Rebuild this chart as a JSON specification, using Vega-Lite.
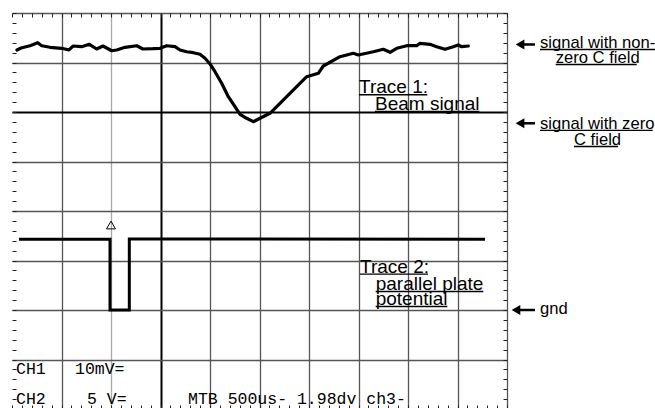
{
  "$schema": "https://vega.github.io/schema/vega-lite/v6.json",
  "width": 495,
  "height": 396,
  "autosize": {"type": "none"},
  "padding": {"left": 12, "top": 13, "right": 148, "bottom": 0},
  "background": "white",
  "config": {"view": {"stroke": null}},
  "datasets": {
    "trace1": [
      {"t": 0.101, "v": 7.253}, {"t": 0.182, "v": 7.293}, {"t": 0.364, "v": 7.339}, {"t": 0.519, "v": 7.4},
      {"t": 0.6, "v": 7.339}, {"t": 0.768, "v": 7.307}, {"t": 1.004, "v": 7.287}, {"t": 1.152, "v": 7.253},
      {"t": 1.232, "v": 7.333}, {"t": 1.408, "v": 7.319}, {"t": 1.562, "v": 7.368}, {"t": 1.711, "v": 7.273},
      {"t": 1.838, "v": 7.333}, {"t": 2.014, "v": 7.238}, {"t": 2.115, "v": 7.253}, {"t": 2.283, "v": 7.307},
      {"t": 2.519, "v": 7.339}, {"t": 2.646, "v": 7.273}, {"t": 2.848, "v": 7.279}, {"t": 2.99, "v": 7.287},
      {"t": 3.125, "v": 7.339}, {"t": 3.293, "v": 7.319}, {"t": 3.394, "v": 7.253}, {"t": 3.529, "v": 7.218},
      {"t": 3.663, "v": 7.198}, {"t": 3.798, "v": 7.166}, {"t": 3.899, "v": 7.085}, {"t": 4.0, "v": 6.97},
      {"t": 4.101, "v": 6.814}, {"t": 4.236, "v": 6.58}, {"t": 4.37, "v": 6.309}, {"t": 4.505, "v": 6.107},
      {"t": 4.606, "v": 5.954}, {"t": 4.741, "v": 5.873}, {"t": 4.875, "v": 5.804}, {"t": 5.01, "v": 5.873},
      {"t": 5.212, "v": 5.974}, {"t": 5.549, "v": 6.309}, {"t": 5.953, "v": 6.713}, {"t": 6.188, "v": 6.782},
      {"t": 6.289, "v": 6.929}, {"t": 6.626, "v": 7.117}, {"t": 6.895, "v": 7.186}, {"t": 6.996, "v": 7.152},
      {"t": 7.299, "v": 7.218}, {"t": 7.501, "v": 7.267}, {"t": 7.636, "v": 7.206}, {"t": 7.772, "v": 7.287},
      {"t": 7.974, "v": 7.339}, {"t": 8.176, "v": 7.339}, {"t": 8.242, "v": 7.388}, {"t": 8.444, "v": 7.368},
      {"t": 8.58, "v": 7.319}, {"t": 8.747, "v": 7.267}, {"t": 8.915, "v": 7.319}, {"t": 9.016, "v": 7.354},
      {"t": 9.085, "v": 7.319}, {"t": 9.218, "v": 7.333}
    ],
    "trace2": [
      {"i": 0, "t": 0.141, "v": 3.428}, {"i": 1, "t": 1.98, "v": 3.428}, {"i": 2, "t": 1.98, "v": 2.0},
      {"i": 3, "t": 2.37, "v": 2.0}, {"i": 4, "t": 2.37, "v": 3.435}, {"i": 5, "t": 9.556, "v": 3.43}
    ],
    "trigger": [{"t": 2.0, "v": 3.717}],
    "traceLabels": [
      {"t": 7.01, "v": 6.378, "text": "Trace 1:"},
      {"t": 7.333, "v": 6.04, "text": "Beam signal"},
      {"t": 7.03, "v": 2.754, "text": "Trace 2:"},
      {"t": 7.347, "v": 2.404, "text": "parallel plate"},
      {"t": 7.347, "v": 2.101, "text": "potential"}
    ],
    "sideLabels": [
      {"t": 10.667, "v": 7.293, "text": "signal with non-"},
      {"t": 10.984, "v": 6.99, "text": "zero C field"},
      {"t": 10.667, "v": 5.657, "text": "signal with zero"},
      {"t": 11.354, "v": 5.333, "text": "C field"},
      {"t": 10.667, "v": 1.929, "text": "gnd"}
    ],
    "underlines": [
      {"t": 7.01, "t2": 8.39, "v": 6.348},
      {"t": 7.333, "t2": 9.44, "v": 6.01},
      {"t": 7.03, "t2": 8.404, "v": 2.724},
      {"t": 7.347, "t2": 9.521, "v": 2.374},
      {"t": 7.347, "t2": 8.794, "v": 2.071},
      {"t": 10.667, "t2": 13.004, "v": 7.263},
      {"t": 10.984, "t2": 12.62, "v": 6.96},
      {"t": 10.667, "t2": 12.943, "v": 5.627},
      {"t": 11.354, "t2": 12.242, "v": 5.303}
    ],
    "arrows": [
      {"t": 10.263, "t2": 10.566, "v": 7.364},
      {"t": 10.263, "t2": 10.566, "v": 5.772},
      {"t": 10.182, "t2": 10.566, "v": 2.0}
    ],
    "scopeText": [
      {"t": 0.081, "v": 0.707, "text": "CH1"},
      {"t": 1.273, "v": 0.707, "text": "10mV="},
      {"t": 0.081, "v": 0.095, "text": "CH2"},
      {"t": 1.515, "v": 0.095, "text": "5 V="},
      {"t": 3.556, "v": 0.095, "text": "MTB 500us- 1.98dv ch3-"}
    ]
  },
  "layer": [
    {
      "data": {"name": "trace1"},
      "mark": {"type": "line", "color": "#000", "strokeWidth": 3.2, "strokeJoin": "round", "strokeCap": "round"},
      "encoding": {
        "x": {
          "field": "t", "type": "quantitative",
          "scale": {"domain": [0, 10], "nice": false, "zero": false},
          "axis": {
            "orient": "bottom", "title": null, "labels": false, "domain": false,
            "values": [0,0.2,0.4,0.6,0.8,1,1.2,1.4,1.6,1.8,2,2.2,2.4,2.6,2.8,3,3.2,3.4,3.6,3.8,4,4.2,4.4,4.6,4.8,5,5.2,5.4,5.6,5.8,6,6.2,6.4,6.6,6.8,7,7.2,7.4,7.6,7.8,8,8.2,8.4,8.6,8.8,9,9.2,9.4,9.6,9.8,10],
            "ticks": true, "tickSize": -4, "tickColor": "#222", "tickWidth": 1,
            "grid": true,
            "gridColor": {"condition": [{"test": "datum.value == 3", "value": "#000"}, {"test": "datum.value == 2", "value": "#aaa"}], "value": "#555"},
            "gridWidth": {"condition": {"test": "datum.value == 3", "value": 2}, "value": 1.3},
            "gridOpacity": {"condition": {"test": "datum.value < 0.5 || abs(datum.value - round(datum.value)) > 0.01", "value": 0}, "value": 1}
          }
        },
        "y": {
          "field": "v", "type": "quantitative",
          "scale": {"domain": [0, 8], "nice": false, "zero": false},
          "axis": {
            "orient": "left", "title": null, "labels": false, "domain": false,
            "values": [0,0.2,0.4,0.6,0.8,1,1.2,1.4,1.6,1.8,2,2.2,2.4,2.6,2.8,3,3.2,3.4,3.6,3.8,4,4.2,4.4,4.6,4.8,5,5.2,5.4,5.6,5.8,6,6.2,6.4,6.6,6.8,7,7.2,7.4,7.6,7.8,8],
            "ticks": true, "tickSize": -4, "tickColor": "#222", "tickWidth": 1,
            "grid": true,
            "gridColor": {"condition": {"test": "datum.value == 6", "value": "#000"}, "value": "#555"},
            "gridWidth": {"condition": {"test": "datum.value == 6", "value": 2}, "value": 1.3},
            "gridOpacity": {"condition": {"test": "datum.value < 0.5 || abs(datum.value - round(datum.value)) > 0.01", "value": 0}, "value": 1}
          }
        }
      }
    },
    {
      "data": {"name": "trace2"},
      "mark": {"type": "line", "color": "#000", "strokeWidth": 3, "strokeJoin": "miter"},
      "encoding": {
        "x": {
          "field": "t", "type": "quantitative",
          "axis": {
            "orient": "top", "title": null, "labels": false, "domain": false, "grid": false,
            "values": [0,0.2,0.4,0.6,0.8,1,1.2,1.4,1.6,1.8,2,2.2,2.4,2.6,2.8,3,3.2,3.4,3.6,3.8,4,4.2,4.4,4.6,4.8,5,5.2,5.4,5.6,5.8,6,6.2,6.4,6.6,6.8,7,7.2,7.4,7.6,7.8,8,8.2,8.4,8.6,8.8,9,9.2,9.4,9.6,9.8,10],
            "ticks": true, "tickSize": -4, "tickColor": "#222", "tickWidth": 1
          }
        },
        "y": {
          "field": "v", "type": "quantitative",
          "axis": {
            "orient": "right", "title": null, "labels": false, "domain": false, "grid": false,
            "values": [0,0.2,0.4,0.6,0.8,1,1.2,1.4,1.6,1.8,2,2.2,2.4,2.6,2.8,3,3.2,3.4,3.6,3.8,4,4.2,4.4,4.6,4.8,5,5.2,5.4,5.6,5.8,6,6.2,6.4,6.6,6.8,7,7.2,7.4,7.6,7.8,8],
            "ticks": true, "tickSize": -4, "tickColor": "#222", "tickWidth": 1
          }
        },
        "order": {"field": "i", "type": "quantitative"}
      }
    },
    {
      "data": {"name": "trigger"},
      "mark": {"type": "point", "shape": "triangle-up", "filled": false, "stroke": "#000", "strokeWidth": 1, "size": 80, "opacity": 1},
      "encoding": {
        "x": {"field": "t", "type": "quantitative", "axis": null},
        "y": {"field": "v", "type": "quantitative", "axis": null}
      }
    },
    {
      "data": {"name": "underlines"},
      "mark": {"type": "rule", "color": "#000", "strokeWidth": 1.3},
      "encoding": {
        "x": {"field": "t", "type": "quantitative", "axis": null},
        "x2": {"field": "t2"},
        "y": {"field": "v", "type": "quantitative", "axis": null}
      }
    },
    {
      "data": {"name": "arrows"},
      "mark": {"type": "rule", "color": "#000", "strokeWidth": 2.5},
      "encoding": {
        "x": {"field": "t", "type": "quantitative", "axis": null},
        "x2": {"field": "t2"},
        "y": {"field": "v", "type": "quantitative", "axis": null}
      }
    },
    {
      "data": {"name": "arrows"},
      "mark": {"type": "point", "shape": "triangle-left", "filled": true, "color": "#000", "size": 100, "opacity": 1},
      "encoding": {
        "x": {"field": "t", "type": "quantitative", "axis": null},
        "y": {"field": "v", "type": "quantitative", "axis": null}
      }
    },
    {
      "data": {"name": "traceLabels"},
      "mark": {"type": "text", "align": "left", "baseline": "alphabetic", "font": "Liberation Sans", "fontSize": 19, "color": "#000"},
      "encoding": {
        "x": {"field": "t", "type": "quantitative", "axis": null},
        "y": {"field": "v", "type": "quantitative", "axis": null},
        "text": {"field": "text"}
      }
    },
    {
      "data": {"name": "sideLabels"},
      "mark": {"type": "text", "align": "left", "baseline": "alphabetic", "font": "Liberation Sans", "fontSize": 16.6, "color": "#000"},
      "encoding": {
        "x": {"field": "t", "type": "quantitative", "axis": null},
        "y": {"field": "v", "type": "quantitative", "axis": null},
        "text": {"field": "text"}
      }
    },
    {
      "data": {"name": "scopeText"},
      "mark": {"type": "text", "align": "left", "baseline": "alphabetic", "font": "Liberation Mono", "fontSize": 16.5, "color": "#000"},
      "encoding": {
        "x": {"field": "t", "type": "quantitative", "axis": null},
        "y": {"field": "v", "type": "quantitative", "axis": null},
        "text": {"field": "text"}
      }
    }
  ],
  "resolve": {"axis": {"x": "independent", "y": "independent"}}
}
